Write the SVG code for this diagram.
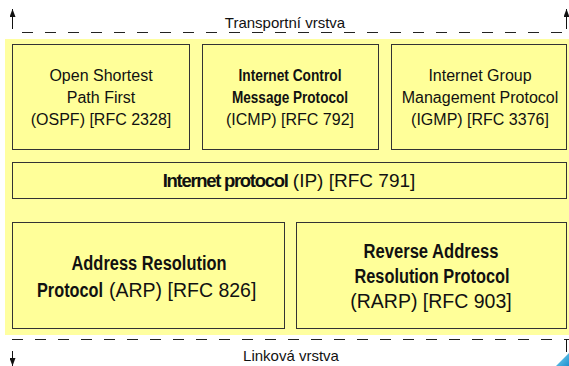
<svg xmlns="http://www.w3.org/2000/svg" width="569" height="366" viewBox="0 0 569 366">
<style>
.bg{fill:#ffffa0;stroke:none}
.box{fill:#ffff99;stroke:#333333;stroke-width:1}
.t{font-family:"Liberation Sans",Arial,sans-serif;font-size:16px;fill:#111;text-anchor:middle}
.s{font-size:15px}
.m{font-size:19px}
.l{font-size:19.5px}
.st{text-anchor:start}
.b{font-weight:bold}
.bc{font-weight:bold;font-size:18.5px;letter-spacing:-1.3px}
.dash{stroke:#222;stroke-width:1;stroke-dasharray:11 12;fill:none}
.ar{stroke:#111;stroke-width:1;fill:none}
</style>
<defs>
<marker id="ah" viewBox="0 0 8 6" refX="8" refY="3" markerWidth="8" markerHeight="6" orient="auto" markerUnits="userSpaceOnUse">
<path d="M0,0 L8,3 L0,6 Z" fill="#111"/>
</marker>
<linearGradient id="tri" x1="0" y1="0" x2="1" y2="1">
<stop offset="0" stop-color="#7fd8f0"/>
<stop offset="1" stop-color="#1e90d0"/>
</linearGradient>
</defs>
<rect class="bg" x="5" y="39" width="564" height="296"/>
<g id="connectors">
<line class="dash" x1="22" y1="32.5" x2="569" y2="32.5"/>
<line class="dash" x1="12" y1="339.5" x2="569" y2="339.5"/>
<line class="ar" x1="12.5" y1="29" x2="12.5" y2="9" marker-end="url(#ah)"/>
<line class="ar" x1="566.5" y1="29" x2="566.5" y2="9" marker-end="url(#ah)"/>
<line class="ar" x1="12.5" y1="351" x2="12.5" y2="366" marker-end="url(#ah)"/>
<line class="ar" x1="566.5" y1="339" x2="566.5" y2="352"/>
</g>
<polygon points="556,366 569,353 569,366" fill="url(#tri)"/>
<text class="t s" x="285" y="28">Transportní vrstva</text>
<text class="t s" x="291" y="361">Linková vrstva</text>
<g id="ospf">
<rect class="box" x="12.5" y="44.5" width="177" height="105"/>
<text class="t" x="101" y="81">Open Shortest</text>
<text class="t" x="101" y="103">Path First</text>
<text class="t" x="101" y="125">(OSPF) [RFC 2328]</text>
</g>
<g id="icmp">
<rect class="box" x="202.5" y="44.5" width="176" height="105"/>
<text class="t b" x="290" y="81" textLength="103" lengthAdjust="spacingAndGlyphs">Internet Control</text>
<text class="t b" x="290" y="103" textLength="116" lengthAdjust="spacingAndGlyphs">Message Protocol</text>
<text class="t" x="290" y="125">(ICMP) [RFC 792]</text>
</g>
<g id="igmp">
<rect class="box" x="391.5" y="44.5" width="175" height="105"/>
<text class="t" x="480" y="81">Internet Group</text>
<text class="t" x="480" y="103">Management Protocol</text>
<text class="t" x="480" y="125">(IGMP) [RFC 3376]</text>
</g>
<g id="ip">
<rect class="box" x="12.5" y="162.5" width="554" height="36"/>
<text class="t m" x="289" y="187"><tspan class="bc">Internet protocol</tspan> (IP) [RFC 791]</text>
</g>
<g id="arp">
<rect class="box" x="12.5" y="222.5" width="272" height="106"/>
<text class="t l b" x="149" y="270" textLength="155" lengthAdjust="spacingAndGlyphs">Address Resolution</text>
<text class="t l b st" x="37" y="297" textLength="66" lengthAdjust="spacingAndGlyphs">Protocol</text>
<text class="t l st" x="109" y="297">(ARP) [RFC 826]</text>
</g>
<g id="rarp">
<rect class="box" x="296.5" y="222.5" width="270" height="106"/>
<text class="t l b" x="431" y="258" textLength="135" lengthAdjust="spacingAndGlyphs">Reverse Address</text>
<text class="t l b" x="432" y="283" textLength="155" lengthAdjust="spacingAndGlyphs">Resolution Protocol</text>
<text class="t l" x="431" y="308">(RARP) [RFC 903]</text>
</g>
</svg>
